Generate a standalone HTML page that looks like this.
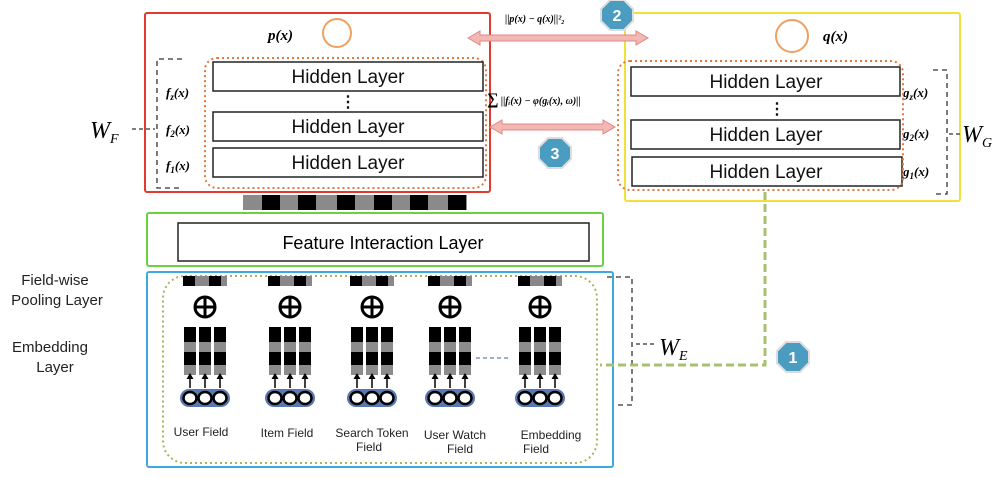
<!DOCTYPE html>
<html><head><meta charset="utf-8"><style>body{margin:0;background:#fff}svg{display:block}</style></head><body>
<svg width="1000" height="478" viewBox="0 0 1000 478" xmlns="http://www.w3.org/2000/svg" font-family="Liberation Sans, sans-serif">
<defs>
<g id="col">
  <rect x="-22" y="276" width="44" height="10" fill="#888"/>
  <rect x="-22" y="276" width="12" height="10" fill="#000"/><rect x="4" y="276" width="12" height="10" fill="#000"/>
  <circle cx="0" cy="307" r="10" fill="none" stroke="#000" stroke-width="3"/>
  <line x1="-10" y1="307" x2="10" y2="307" stroke="#000" stroke-width="3"/><line x1="0" y1="297" x2="0" y2="317" stroke="#000" stroke-width="3"/>
  <g id="bar"><rect x="-21" y="327" width="12" height="48" fill="#8c8c8c"/><rect x="-21" y="327" width="12" height="15" fill="#000"/><rect x="-21" y="352" width="12" height="13" fill="#000"/>
  <line x1="-15" y1="388" x2="-15" y2="377" stroke="#000" stroke-width="1.5"/><path d="M-18.5 379 L-15 373 L-11.5 379Z"/></g>
  <use href="#bar" x="15"/><use href="#bar" x="30"/>
  <rect x="-25" y="389" width="50" height="18" rx="9" fill="#5a78b0"/>
  <ellipse cx="-15" cy="398" rx="6.5" ry="6" fill="#fff" stroke="#000" stroke-width="2.5"/>
  <ellipse cx="0" cy="398" rx="6.5" ry="6" fill="#fff" stroke="#000" stroke-width="2.5"/>
  <ellipse cx="15" cy="398" rx="6.5" ry="6" fill="#fff" stroke="#000" stroke-width="2.5"/>
</g>
<g id="hex"><polygon points="-7,-15 7,-15 16,-6 16,6 7,15 -7,15 -16,6 -16,-6" fill="#4a9cc0" stroke="#ddd" stroke-width="2"/></g>
</defs>
<!-- red box -->
<rect x="145" y="13" width="345" height="179" fill="none" stroke="#e23a2e" stroke-width="2" rx="2"/>
<rect x="205" y="58" width="281" height="130" rx="12" fill="none" stroke="#e07a40" stroke-width="2" stroke-dasharray="2,3"/>
<g fill="#fff" stroke="#222" stroke-width="1.5">
<rect x="213" y="62" width="270" height="29"/><rect x="213" y="112" width="270" height="29"/><rect x="213" y="148" width="270" height="29"/>
<rect x="631" y="67" width="269" height="29"/><rect x="631" y="120" width="269" height="29"/><rect x="632" y="157" width="270" height="29"/>
</g>
<g font-size="19" text-anchor="middle" fill="#111">
<text x="348" y="83">Hidden Layer</text><text x="348" y="133">Hidden Layer</text><text x="348" y="169">Hidden Layer</text>
<text x="766" y="88">Hidden Layer</text><text x="766" y="141">Hidden Layer</text><text x="766" y="178">Hidden Layer</text>
<text x="348" y="107" font-size="16" font-weight="bold">⋮</text><text x="777" y="114" font-size="16" font-weight="bold">⋮</text>
</g>
<circle cx="337" cy="33" r="14" fill="none" stroke="#f0a060" stroke-width="2"/>
<text x="268" y="40" font-family="Liberation Serif, serif" font-style="italic" font-weight="bold" font-size="15">p(x)</text>
<g font-family="Liberation Serif, serif" font-style="italic" font-weight="bold" font-size="13">
<text x="166" y="97">f<tspan font-size="9" dy="3">z</tspan><tspan dy="-3">(x)</tspan></text>
<text x="166" y="134">f<tspan font-size="9" dy="3">2</tspan><tspan dy="-3">(x)</tspan></text>
<text x="166" y="170">f<tspan font-size="9" dy="3">1</tspan><tspan dy="-3">(x)</tspan></text>
<text x="903" y="97">g<tspan font-size="9" dy="3">z</tspan><tspan dy="-3">(x)</tspan></text>
<text x="903" y="138">g<tspan font-size="9" dy="3">2</tspan><tspan dy="-3">(x)</tspan></text>
<text x="903" y="176">g<tspan font-size="9" dy="3">1</tspan><tspan dy="-3">(x)</tspan></text>
</g>
<path d="M182 59 H157 V188 H182" fill="none" stroke="#333" stroke-width="1.3" stroke-dasharray="5,4"/>
<path d="M132 129 H155" stroke="#333" stroke-width="1.3" stroke-dasharray="4,3"/>
<text x="90" y="138" font-family="Liberation Serif, serif" font-style="italic" font-size="24">W<tspan font-size="14" dy="5">F</tspan></text>
<!-- yellow box -->
<rect x="625" y="13" width="335" height="188" fill="none" stroke="#f2e03a" stroke-width="2" rx="2"/>
<rect x="618" y="61" width="285" height="129" rx="12" fill="none" stroke="#e07a40" stroke-width="2" stroke-dasharray="2,3"/>
<circle cx="792" cy="36" r="16" fill="none" stroke="#f0a060" stroke-width="2"/>
<text x="823" y="41" font-family="Liberation Serif, serif" font-style="italic" font-weight="bold" font-size="15">q(x)</text>
<path d="M933 70 H947 V194 H933" fill="none" stroke="#333" stroke-width="1.3" stroke-dasharray="5,4"/>
<path d="M949 134 H960" stroke="#333" stroke-width="1.3" stroke-dasharray="4,3"/>
<text x="962" y="142" font-family="Liberation Serif, serif" font-style="italic" font-size="24">W<tspan font-size="14" dy="5">G</tspan></text>
<!-- arrows -->
<g fill="#f4b8b4" stroke="#d88" stroke-width="1">
<path d="M468 38 L480 31 V35 H636 V31 L648 38 L636 45 V41 H480 V45Z"/>
<path d="M490 127 L502 120 V124 H603 V120 L615 127 L603 134 V130 H502 V134Z"/>
</g>
<text x="505" y="22" font-family="Liberation Serif, serif" font-weight="bold" font-style="italic" font-size="10">||p(x) − q(x)||²₂</text>
<text x="487" y="104" font-family="Liberation Serif, serif" font-weight="bold" font-style="italic" font-size="10"><tspan font-size="16" font-style="normal">∑</tspan> ||fᵢ(x) − φ(gᵢ(x), ω)||</text>
<use href="#hex" x="617" y="15"/><text x="617" y="21" fill="#fff" font-size="16" font-weight="bold" text-anchor="middle">2</text>
<use href="#hex" x="555" y="153"/><text x="555" y="159" fill="#fff" font-size="16" font-weight="bold" text-anchor="middle">3</text>
<use href="#hex" x="793" y="357"/><text x="793" y="363" fill="#fff" font-size="16" font-weight="bold" text-anchor="middle">1</text>
<!-- checker -->
<rect x="243" y="195" width="224" height="15" fill="#8a8a8a"/>
<g fill="#000"><rect x="262" y="195" width="18" height="15"/><rect x="298" y="195" width="18" height="15"/><rect x="337" y="195" width="18" height="15"/><rect x="374" y="195" width="18" height="15"/><rect x="410" y="195" width="18" height="15"/><rect x="448" y="195" width="18" height="15"/></g>
<!-- feature interaction -->
<rect x="147" y="213" width="456" height="53" fill="none" stroke="#6cd040" stroke-width="2" rx="2"/>
<rect x="178" y="223" width="411" height="38" fill="#fff" stroke="#222" stroke-width="1.5"/>
<text x="383" y="249" font-size="18" text-anchor="middle">Feature Interaction Layer</text>
<!-- embedding -->
<rect x="147" y="272" width="466" height="195" fill="none" stroke="#3ea8e0" stroke-width="2" rx="2"/>
<rect x="163" y="276" width="434" height="187" rx="22" fill="none" stroke="#b0b060" stroke-width="2" stroke-dasharray="2,3"/>
<use href="#col" x="205"/><use href="#col" x="290"/><use href="#col" x="372"/><use href="#col" x="450"/><use href="#col" x="540"/>
<line x1="476" y1="358" x2="510" y2="358" stroke="#6080b0" stroke-width="1.2" stroke-dasharray="4,3"/>
<g font-size="12" text-anchor="middle" fill="#222">
<text x="201" y="436">User Field</text><text x="287" y="437">Item Field</text>
<text x="372" y="437">Search Token</text><text x="369" y="451">Field</text>
<text x="455" y="439">User  Watch</text><text x="460" y="453">Field</text>
<text x="551" y="439">Embedding</text><text x="536" y="453">Field</text>
</g>
<g font-size="15" text-anchor="middle" fill="#222">
<text x="55" y="285">Field-wise</text><text x="57" y="305">Pooling Layer</text>
<text x="50" y="352">Embedding</text><text x="55" y="372">Layer</text>
</g>
<path d="M607 277 H632 V405 H614" fill="none" stroke="#333" stroke-width="1.3" stroke-dasharray="5,4"/>
<path d="M636 344 H655" stroke="#333" stroke-width="1.3" stroke-dasharray="4,3"/>
<text x="659" y="355" font-family="Liberation Serif, serif" font-style="italic" font-size="24">W<tspan font-size="14" dy="5">E</tspan></text>
<path d="M765 192 V365 H600" fill="none" stroke="#a8c070" stroke-width="3" stroke-dasharray="8,4"/>
</svg>
</body></html>
